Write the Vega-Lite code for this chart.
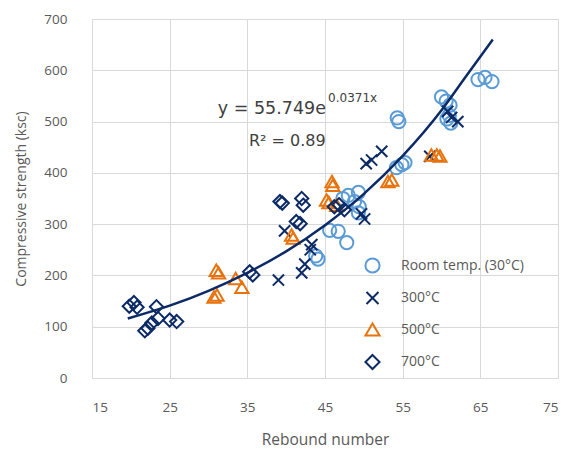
{
  "$schema": "https://vega.github.io/schema/vega-lite/v6.json",
  "width": 466,
  "height": 359,
  "autosize": "none",
  "padding": {"left": 92, "top": 19, "right": 14, "bottom": 79},
  "background": "white",
  "config": {
    "view": {"stroke": null},
    "font": "Open Sans",
    "axis": {
      "grid": true,
      "gridColor": "#D9D9D9",
      "gridWidth": 1,
      "domainColor": "#D9D9D9",
      "ticks": false,
      "labelFontSize": 13.5,
      "labelColor": "#595959",
      "titleFontSize": 14,
      "titleFontWeight": "normal",
      "titleColor": "#595959"
    }
  },
  "datasets": {
    "points": [
      {"series": "Room temp. (30°C)", "rebound": 43.8, "strength": 238},
      {"series": "Room temp. (30°C)", "rebound": 44.1, "strength": 232},
      {"series": "Room temp. (30°C)", "rebound": 45.6, "strength": 288},
      {"series": "Room temp. (30°C)", "rebound": 46.7, "strength": 286},
      {"series": "Room temp. (30°C)", "rebound": 47.8, "strength": 264},
      {"series": "Room temp. (30°C)", "rebound": 47.3, "strength": 350},
      {"series": "Room temp. (30°C)", "rebound": 48.0, "strength": 356},
      {"series": "Room temp. (30°C)", "rebound": 49.3, "strength": 362},
      {"series": "Room temp. (30°C)", "rebound": 48.8, "strength": 344},
      {"series": "Room temp. (30°C)", "rebound": 49.4, "strength": 334},
      {"series": "Room temp. (30°C)", "rebound": 49.3, "strength": 322},
      {"series": "Room temp. (30°C)", "rebound": 54.3, "strength": 507},
      {"series": "Room temp. (30°C)", "rebound": 54.5, "strength": 500},
      {"series": "Room temp. (30°C)", "rebound": 54.2, "strength": 410},
      {"series": "Room temp. (30°C)", "rebound": 54.9, "strength": 416},
      {"series": "Room temp. (30°C)", "rebound": 55.3, "strength": 420},
      {"series": "Room temp. (30°C)", "rebound": 60.0, "strength": 548},
      {"series": "Room temp. (30°C)", "rebound": 60.6, "strength": 540},
      {"series": "Room temp. (30°C)", "rebound": 61.1, "strength": 532},
      {"series": "Room temp. (30°C)", "rebound": 60.7, "strength": 505},
      {"series": "Room temp. (30°C)", "rebound": 61.2, "strength": 497},
      {"series": "Room temp. (30°C)", "rebound": 61.0, "strength": 512},
      {"series": "Room temp. (30°C)", "rebound": 64.7, "strength": 582},
      {"series": "Room temp. (30°C)", "rebound": 65.6, "strength": 586},
      {"series": "Room temp. (30°C)", "rebound": 66.5, "strength": 578},
      {"series": "300°C", "rebound": 39.0, "strength": 191},
      {"series": "300°C", "rebound": 39.8, "strength": 287},
      {"series": "300°C", "rebound": 42.4, "strength": 222},
      {"series": "300°C", "rebound": 42.0, "strength": 205},
      {"series": "300°C", "rebound": 43.3, "strength": 260},
      {"series": "300°C", "rebound": 43.1, "strength": 250},
      {"series": "300°C", "rebound": 49.7, "strength": 320},
      {"series": "300°C", "rebound": 50.1, "strength": 310},
      {"series": "300°C", "rebound": 50.3, "strength": 418},
      {"series": "300°C", "rebound": 51.0, "strength": 425},
      {"series": "300°C", "rebound": 52.3, "strength": 442},
      {"series": "300°C", "rebound": 58.5, "strength": 432},
      {"series": "300°C", "rebound": 60.8, "strength": 520},
      {"series": "300°C", "rebound": 61.3, "strength": 508},
      {"series": "300°C", "rebound": 62.1, "strength": 500},
      {"series": "500°C", "rebound": 31.0, "strength": 210},
      {"series": "500°C", "rebound": 31.3, "strength": 205},
      {"series": "500°C", "rebound": 30.7, "strength": 158},
      {"series": "500°C", "rebound": 31.1, "strength": 162},
      {"series": "500°C", "rebound": 33.5, "strength": 194},
      {"series": "500°C", "rebound": 34.3, "strength": 177},
      {"series": "500°C", "rebound": 40.7, "strength": 279},
      {"series": "500°C", "rebound": 40.9, "strength": 273},
      {"series": "500°C", "rebound": 45.9, "strength": 383},
      {"series": "500°C", "rebound": 46.0, "strength": 376},
      {"series": "500°C", "rebound": 45.2, "strength": 347},
      {"series": "500°C", "rebound": 45.5, "strength": 342},
      {"series": "500°C", "rebound": 46.5, "strength": 337},
      {"series": "500°C", "rebound": 53.1, "strength": 383},
      {"series": "500°C", "rebound": 53.6, "strength": 386},
      {"series": "500°C", "rebound": 58.7, "strength": 435},
      {"series": "500°C", "rebound": 59.4, "strength": 435},
      {"series": "500°C", "rebound": 59.8, "strength": 433},
      {"series": "700°C", "rebound": 19.8, "strength": 140},
      {"series": "700°C", "rebound": 20.4, "strength": 147},
      {"series": "700°C", "rebound": 20.8, "strength": 138},
      {"series": "700°C", "rebound": 23.3, "strength": 139},
      {"series": "700°C", "rebound": 23.5, "strength": 116},
      {"series": "700°C", "rebound": 22.7, "strength": 107},
      {"series": "700°C", "rebound": 22.2, "strength": 97},
      {"series": "700°C", "rebound": 21.8, "strength": 92},
      {"series": "700°C", "rebound": 25.0, "strength": 113},
      {"series": "700°C", "rebound": 25.9, "strength": 110},
      {"series": "700°C", "rebound": 35.3, "strength": 207},
      {"series": "700°C", "rebound": 35.7, "strength": 201},
      {"series": "700°C", "rebound": 39.2, "strength": 344},
      {"series": "700°C", "rebound": 39.5, "strength": 341},
      {"series": "700°C", "rebound": 42.0, "strength": 350},
      {"series": "700°C", "rebound": 42.2, "strength": 337},
      {"series": "700°C", "rebound": 41.3, "strength": 305},
      {"series": "700°C", "rebound": 41.8, "strength": 301},
      {"series": "700°C", "rebound": 46.2, "strength": 334},
      {"series": "700°C", "rebound": 46.8, "strength": 338},
      {"series": "700°C", "rebound": 47.5, "strength": 328}
    ],
    "trend": [
      {"rebound": 19.6, "strength": 116},
      {"rebound": 25, "strength": 141},
      {"rebound": 30, "strength": 170},
      {"rebound": 35, "strength": 205},
      {"rebound": 40, "strength": 247},
      {"rebound": 45, "strength": 298},
      {"rebound": 50, "strength": 359},
      {"rebound": 55, "strength": 433},
      {"rebound": 60, "strength": 522},
      {"rebound": 63, "strength": 585},
      {"rebound": 66.6, "strength": 660}
    ],
    "eq": [
      {"label": "y = 55.749e", "rebound": 31.2, "strength": 525}
    ],
    "r2": [
      {"label": "R² = 0.89", "rebound": 35.2, "strength": 462}
    ],
    "sup": [
      {"label": "0.0371x", "rebound": 45.4, "strength": 545}
    ]
  },
  "layer": [
    {
      "data": {"name": "points"},
      "mark": {"type": "point", "filled": false, "strokeWidth": 2, "size": 175, "opacity": 1},
      "encoding": {
        "x": {
          "field": "rebound", "type": "quantitative",
          "scale": {"domain": [15, 75], "nice": false, "zero": false},
          "axis": {"values": [15, 25, 35, 45, 55, 65, 75], "title": "Rebound number", "labelPadding": 22, "titlePadding": 19, "titleFontSize": 15.5}
        },
        "y": {
          "field": "strength", "type": "quantitative",
          "scale": {"domain": [0, 700], "nice": false},
          "axis": {"values": [0, 100, 200, 300, 400, 500, 600, 700], "title": "Compressive strength (ksc)", "labelPadding": 25, "titlePadding": 15}
        },
        "color": {
          "field": "series", "type": "nominal",
          "scale": {"domain": ["Room temp. (30°C)", "300°C", "500°C", "700°C"], "range": ["#5B9BD5", "#0C2A66", "#E8720C", "#0C2A66"]},
          "legend": {
            "orient": "none", "legendX": 272, "legendY": 238, "title": null,
            "labelFontSize": 14, "labelColor": "#595959", "labelOffset": 20,
            "symbolSize": 200, "symbolStrokeWidth": 2, "rowPadding": 10.5, "labelFont": "Open Sans"
          }
        },
        "shape": {
          "field": "series", "type": "nominal",
          "scale": {"domain": ["Room temp. (30°C)", "300°C", "500°C", "700°C"], "range": ["circle", "M-0.85,-0.85L0.85,0.85M-0.85,0.85L0.85,-0.85", "triangle-up", "M0,-1L1,0L0,1L-1,0Z"]}
        }
      }
    },
    {
      "data": {"name": "trend"},
      "mark": {"type": "line", "color": "#0C2A66", "strokeWidth": 2.5, "interpolate": "monotone"},
      "encoding": {
        "x": {"field": "rebound", "type": "quantitative"},
        "y": {"field": "strength", "type": "quantitative"}
      }
    },
    {
      "data": {"name": "eq"},
      "mark": {"type": "text", "align": "left", "baseline": "middle", "fontSize": 17.5, "color": "#404040", "font": "DejaVu Sans"},
      "encoding": {
        "x": {"field": "rebound", "type": "quantitative"},
        "y": {"field": "strength", "type": "quantitative"},
        "text": {"field": "label"}
      }
    },
    {
      "data": {"name": "r2"},
      "mark": {"type": "text", "align": "left", "baseline": "middle", "fontSize": 16, "color": "#404040", "font": "DejaVu Sans"},
      "encoding": {
        "x": {"field": "rebound", "type": "quantitative"},
        "y": {"field": "strength", "type": "quantitative"},
        "text": {"field": "label"}
      }
    },
    {
      "data": {"name": "sup"},
      "mark": {"type": "text", "align": "left", "baseline": "middle", "fontSize": 12, "color": "#404040", "font": "DejaVu Sans"},
      "encoding": {
        "x": {"field": "rebound", "type": "quantitative"},
        "y": {"field": "strength", "type": "quantitative"},
        "text": {"field": "label"}
      }
    }
  ]
}
